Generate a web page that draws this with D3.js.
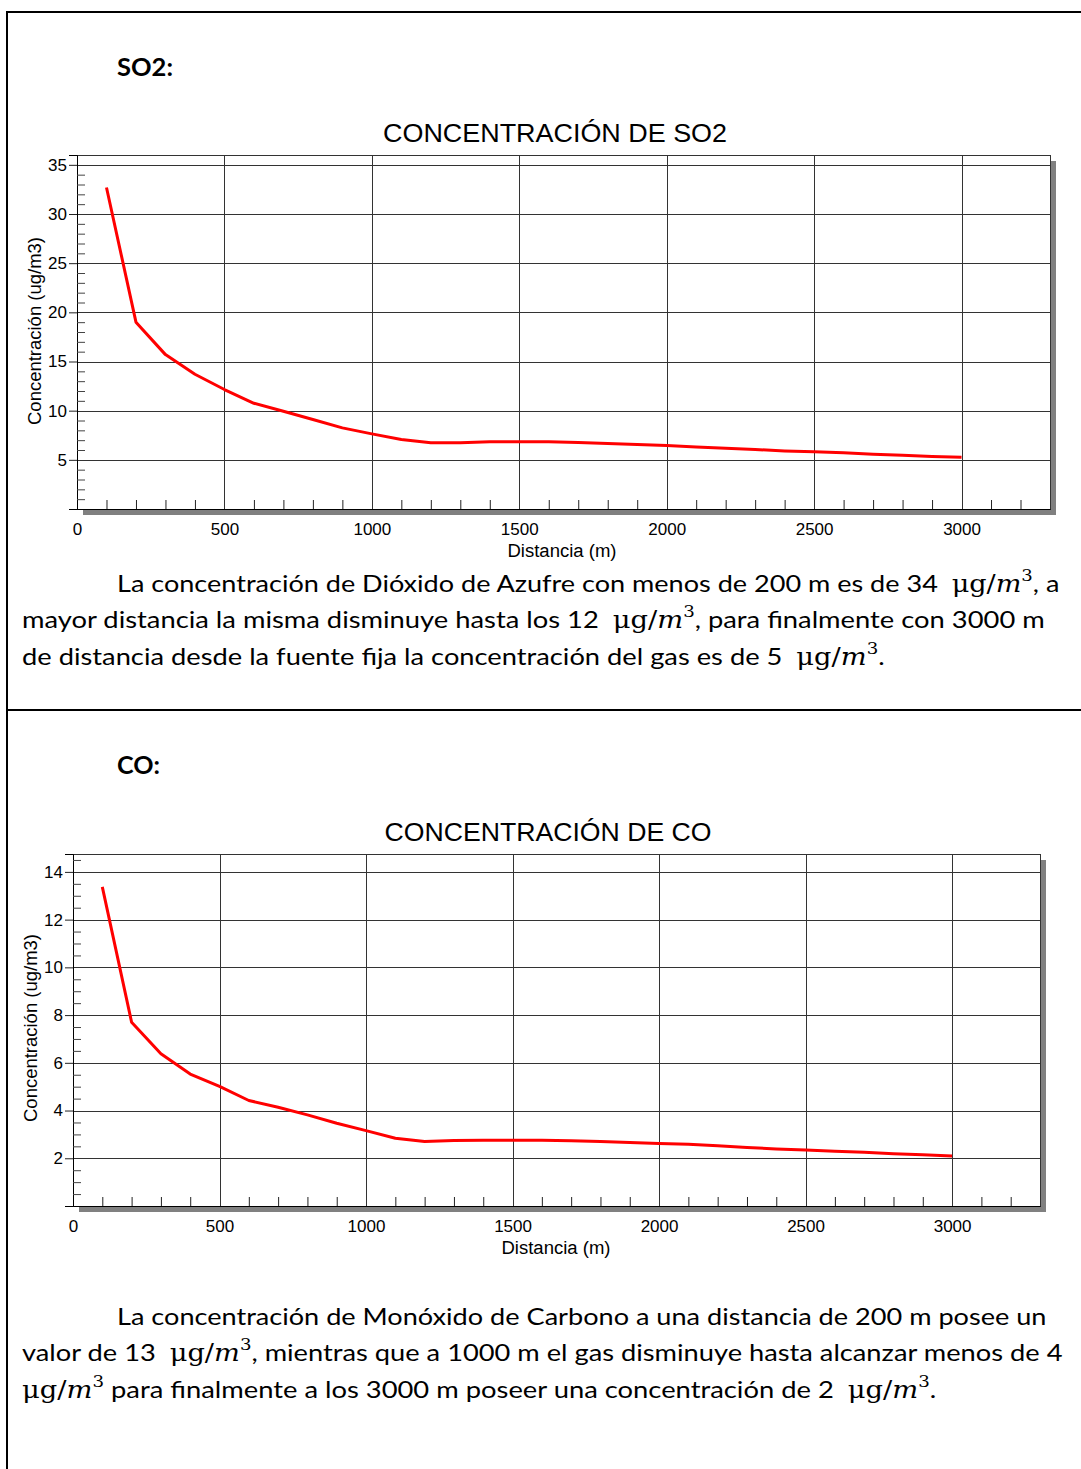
<!DOCTYPE html>
<html><head><meta charset="utf-8">
<script src="https://cdn.jsdelivr.net/npm/d3@7"></script>
<style>body{margin:0;background:#fff} svg{display:block} text{white-space:pre}</style>
</head><body><div id="c"></div>
<script>
// ---------- DATA ----------
const distances = [100,200,300,400,500,600,700,800,900,1000,1100,1200,1300,1400,1500,1600,1700,1800,1900,2000,2100,2200,2300,2400,2500,2600,2700,2800,2900,3000];
const so2Values = [32.7,19.0,15.7,13.7,12.15,10.75,9.94,9.1,8.25,7.64,7.06,6.73,6.73,6.83,6.83,6.83,6.76,6.66,6.56,6.45,6.3,6.18,6.05,5.91,5.81,5.71,5.57,5.47,5.34,5.27];
const coValues = [13.37,7.7,6.38,5.53,5.01,4.42,4.14,3.82,3.47,3.16,2.84,2.70,2.74,2.75,2.75,2.75,2.73,2.70,2.66,2.62,2.59,2.52,2.45,2.39,2.35,2.29,2.25,2.19,2.15,2.10];
const xTickValues = [0,500,1000,1500,2000,2500,3000];
const xMinorValues = d3.range(100,3300,100).filter(v => v % 500 !== 0);
const so2TickValues = [5,10,15,20,25,30,35];
const so2MinorValues = d3.range(1,36,1).filter(v => v % 5 !== 0);
const coTickValues = [2,4,6,8,10,12,14];
const coMinorValues = d3.range(0.5,14.75,0.5).filter(v => v % 2 !== 0);
const so2Title = "CONCENTRACIÓN DE SO2";
const coTitle = "CONCENTRACIÓN DE CO";
const xAxisTitle = "Distancia (m)";
const yAxisTitle = "Concentración (ug/m3)";
const M = "MATH";
const so2Paragraph = [
  ["La concentración de Dióxido de Azufre con menos de 200 m es de 34  ", M, ", a"],
  ["mayor distancia la misma disminuye hasta los 12  ", M, ", para finalmente con 3000 m"],
  ["de distancia desde la fuente fija la concentración del gas es de 5  ", M, "."]
];
const coParagraph = [
  ["La concentración de Monóxido de Carbono a una distancia de 200 m posee un"],
  ["valor de 13  ", M, ", mientras que a 1000 m el gas disminuye hasta alcanzar menos de 4"],
  [M, " para finalmente a los 3000 m poseer una concentración de 2  ", M, "."]
];

// ---------- DRAW ----------
const W = 1081, H = 1469;
const svg = d3.select("#c").append("svg").attr("width", W).attr("height", H);
svg.append("rect").attr("width", W).attr("height", H).attr("fill", "#fff");

// page frame
svg.append("line").attr("x1",7).attr("x2",7).attr("y1",11).attr("y2",H).attr("stroke","#000").attr("stroke-width",2);
svg.append("line").attr("x1",6).attr("x2",W).attr("y1",12).attr("y2",12).attr("stroke","#000").attr("stroke-width",2);
svg.append("line").attr("x1",6).attr("x2",W).attr("y1",710).attr("y2",710).attr("stroke","#000").attr("stroke-width",2);

function fitText(sel, x, y, targetW) {
  const w = sel.node().getBBox().width;
  sel.attr("transform", `translate(${x},${y}) scale(${targetW / w},1)`);
}

function heading(txt, x, y, w) {
  const t = svg.append("text").attr("x",0).attr("y",0)
    .attr("font-family","Lato, 'Open Sans', sans-serif").attr("font-weight","bold")
    .attr("font-size",25).attr("fill","#000").text(txt);
  fitText(t, x, y, w);
}
heading("SO2:", 117, 76, 56);
heading("CO:", 117, 774, 43);

const SERIF = "'DejaVu Serif','Liberation Serif',serif";
function paraLine(parts, x, y, w) {
  const t = svg.append("text").attr("x",0).attr("y",0)
    .attr("font-family","Lato, 'Open Sans', sans-serif").attr("font-size",24).attr("fill","#000");
  let pendingDy = 0;
  parts.forEach(p => {
    if (p === M) {
      t.append("tspan").attr("font-family",SERIF).attr("font-size",24).attr("dy",pendingDy || null).text("μg/");
      t.append("tspan").attr("font-family",SERIF).attr("font-style","italic").attr("font-size",24).text("m");
      t.append("tspan").attr("font-family",SERIF).attr("font-size",16).attr("dy",-11).text("3");
      pendingDy = 11;
    } else {
      t.append("tspan").attr("dy",pendingDy || null).text(p);
      pendingDy = 0;
    }
  });
  fitText(t, x, y, w);
}
const so2ParaPos = [[117,592,943],[22,628,1023],[22,665,863]];
so2Paragraph.forEach((l,i) => paraLine(l, ...so2ParaPos[i]));
const coParaPos = [[117,1325,930],[22,1361,1041],[22,1398,915]];
coParagraph.forEach((l,i) => paraLine(l, ...coParaPos[i]));

function chart(cfg) {
  const g = svg.append("g");
  const x = d3.scaleLinear().domain([0,3300]).range([cfg.left, cfg.right]);
  const y = d3.scaleLinear().domain([0,cfg.yMax]).range([cfg.bottom, cfg.top]);
  const pw = cfg.right - cfg.left, ph = cfg.bottom - cfg.top;
  // shadow
  g.append("rect").attr("x",cfg.left+6).attr("y",cfg.top+6).attr("width",pw).attr("height",ph).attr("fill","#808080");
  g.append("rect").attr("x",cfg.left).attr("y",cfg.top).attr("width",pw).attr("height",ph).attr("fill","#fff");
  // grid
  g.append("g").selectAll("line").data(cfg.yTicks).join("line")
    .attr("x1",cfg.left).attr("x2",cfg.right).attr("y1",d=>Math.round(y(d))+0.5).attr("y2",d=>Math.round(y(d))+0.5)
    .attr("stroke","#333").attr("stroke-width",1);
  g.append("g").selectAll("line").data(xTickValues.filter(v=>v>0)).join("line")
    .attr("y1",cfg.top).attr("y2",cfg.bottom).attr("x1",d=>Math.round(x(d))+0.5).attr("x2",d=>Math.round(x(d))+0.5)
    .attr("stroke","#333").attr("stroke-width",1);
  // frame
  g.append("rect").attr("x",cfg.left+0.5).attr("y",cfg.top+0.5).attr("width",pw).attr("height",ph)
    .attr("fill","none").attr("stroke","#333").attr("stroke-width",1);
  // x axis labels
  const xa = g.append("g").attr("transform",`translate(0,${cfg.bottom})`)
    .call(d3.axisBottom(x).tickValues(xTickValues).tickSize(0).tickPadding(14).tickFormat(d3.format("d")));
  xa.select(".domain").attr("stroke","#000");
  xa.selectAll("text").attr("font-family","'Liberation Sans', Arial, sans-serif").attr("font-size",17).attr("fill","#000");
  // x minor ticks (pointing up)
  const xm = g.append("g").attr("transform",`translate(0,${cfg.bottom})`)
    .call(d3.axisTop(x).tickValues(xMinorValues).tickSize(9).tickFormat(""));
  xm.select(".domain").remove();
  xm.selectAll("text").remove();
  xm.selectAll("line").attr("stroke","#222");
  // y axis
  const ya = g.append("g").attr("transform",`translate(${cfg.left},0)`)
    .call(d3.axisLeft(y).tickValues(cfg.yTicks).tickSize(8).tickPadding(2).tickFormat(d3.format("d")));
  ya.select(".domain").attr("stroke","#000");
  ya.selectAll("line").attr("stroke","#222");
  ya.selectAll("text").attr("font-family","'Liberation Sans', Arial, sans-serif").attr("font-size",17).attr("fill","#000");
  const ym = g.append("g").attr("transform",`translate(${cfg.left},0)`)
    .call(d3.axisRight(y).tickValues(cfg.yMinor).tickSize(8).tickFormat(""));
  ym.select(".domain").remove();
  ym.selectAll("text").remove();
  ym.selectAll("line").attr("stroke","#444");
  // line
  const line = d3.line().x((d,i)=>x(distances[i])).y(d=>y(d));
  g.append("path").datum(cfg.values).attr("d",line).attr("fill","none")
    .attr("stroke","#ff0000").attr("stroke-width",3).attr("stroke-linejoin","round");
  // titles
  g.append("text").attr("x",cfg.titleX).attr("y",cfg.top-13).attr("text-anchor","middle")
    .attr("font-family","'Liberation Sans', Arial, sans-serif").attr("font-size",25)
    .attr("textLength",cfg.titleW).attr("lengthAdjust","spacingAndGlyphs").attr("fill","#000").text(cfg.title);
  g.append("text").attr("x",cfg.xTitleX).attr("y",cfg.bottom+48).attr("text-anchor","middle")
    .attr("font-family","'Liberation Sans', Arial, sans-serif").attr("font-size",18)
    .attr("textLength",109).attr("lengthAdjust","spacingAndGlyphs").attr("fill","#000").text(xAxisTitle);
  g.append("text").attr("transform",`translate(${cfg.yTitleX},${cfg.yTitleY}) rotate(-90)`).attr("text-anchor","middle")
    .attr("font-family","'Liberation Sans', Arial, sans-serif").attr("font-size",18)
    .attr("textLength",188).attr("lengthAdjust","spacingAndGlyphs").attr("fill","#000").text(yAxisTitle);
}

chart({left:77, right:1050, top:155, bottom:509, yMax:36, yTicks:so2TickValues, yMinor:so2MinorValues,
  values:so2Values, title:so2Title, titleX:555, titleW:344, xTitleX:562, yTitleX:41, yTitleY:331});
chart({left:73, right:1040, top:854, bottom:1206, yMax:14.75, yTicks:coTickValues, yMinor:coMinorValues,
  values:coValues, title:coTitle, titleX:548, titleW:327, xTitleX:556, yTitleX:37, yTitleY:1028});
</script></body></html>
